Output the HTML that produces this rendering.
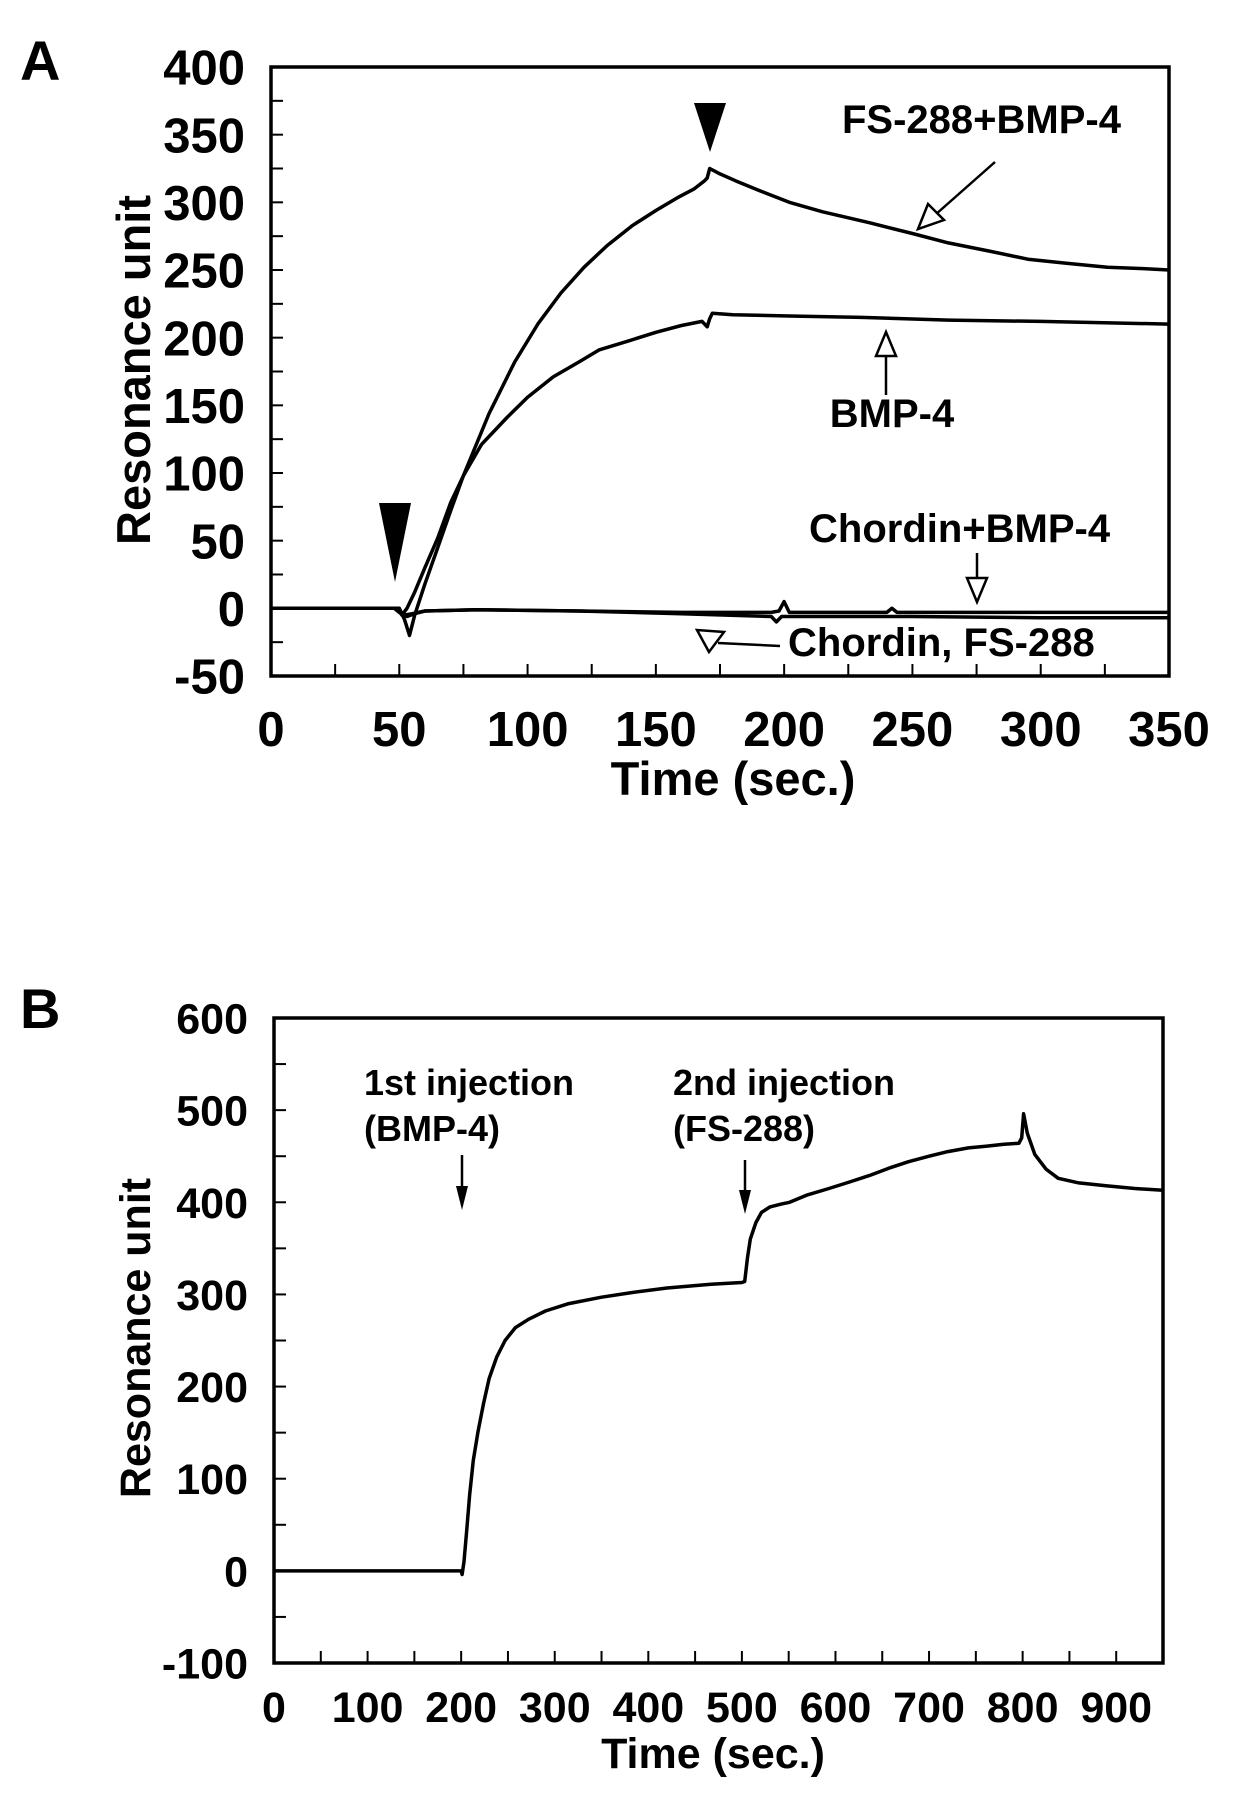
<!DOCTYPE html>
<html><head><meta charset="utf-8"><style>
html,body{margin:0;padding:0;background:#fff;}
svg{display:block;}
text{font-family:"Liberation Sans",Arial,sans-serif;font-weight:bold;fill:#000;}
</style></head><body>
<svg id="fig" width="1238" height="1800" viewBox="0 0 1238 1800" xmlns="http://www.w3.org/2000/svg">
<g id="chartA"></g>
<g id="chartB"></g>
</svg>
<script>
// ---------- Chart A data ----------
const aXTicks = [0,50,100,150,200,250,300,350];
const aYTicks = [-50,0,50,100,150,200,250,300,350,400];
const fsBmpT = [0,45,50,52,54,56,60,65,70,75,85,95,104,113,122,131,141,150,159,165,169,170,171,175,181,190,202,215,233,250,264,280,295,310,326,340,350];
const fsBmpV = [0,0,0,-8,-20,-5,18,45,72,98,144,182,210,233,252,268,283,294,304,310,316,318,325,321,316,309,300,293,285,277,270,264,258,255,252,251,250];
const bmpT = [0,45,49,51,53,56,60,65,70,75,82,92,100,110,120,128,140,150,160,168,170,171,172,180,202,230,264,300,350];
const bmpV = [0,0,0,-5,0,12,30,52,78,98,121,141,156,171,182,191,198,204,209,212,208,214,218,217,216,215,213,212,210];
const chBmpT = [0,48,50,52,55,60,80,120,160,195,198,200,202,210,240,242,244,300,350];
const chBmpV = [0,0,-2,-5,-4,-2,-1,-2,-3,-3,-2,5,-3,-3,-3,0,-3,-3,-3];
const chFsT = [0,48,50,53,56,60,80,120,160,195,197,199,201,210,250,300,350];
const chFsV = [0,0,-3,-6,-4,-2,-1,-2,-4,-6,-10,-6,-6,-6,-6,-7,-7];

// ---------- Chart B data ----------
const bXTicks = [0,100,200,300,400,500,600,700,800,900];
const bYTicks = [-100,0,100,200,300,400,500,600];
const seqT = [0,100,200,201,203,206,209,213,218,224,230,238,247,258,272,290,315,350,382,420,467,500,503,506,509,515,521,530,542,551,570,593,615,636,657,678,700,720,742,762,780,796,799,801,805,813,825,838,860,889,920,950];
const seqV = [0,0,0,-4,10,45,82,120,151,182,209,232,250,264,273,282,290,297,302,307,311,313,314,340,360,378,389,395,398,400,408,415,422,429,437,444,450,455,459,461,463,464,470,496,475,452,436,426,421,418,415,413];

const NS='http://www.w3.org/2000/svg';
function mk(parent,tag,attrs){const e=document.createElementNS(NS,tag);for(const k in attrs)e.setAttribute(k,attrs[k]);parent.appendChild(e);return e;}

const ax={x0:271,x1:1169,y0:676,y1:67,tMin:0,tMax:350,vMin:-50,vMax:400};
const bx={x0:274,x1:1163,y0:1663,y1:1018,tMin:0,tMax:950,vMin:-100,vMax:600};
function sx(a,t){return a.x0+(t-a.tMin)/(a.tMax-a.tMin)*(a.x1-a.x0);}
function sy(a,v){return a.y0-(v-a.vMin)/(a.vMax-a.vMin)*(a.y0-a.y1);}
function pathOf(a,T,V){return T.map((t,i)=>(i?'L':'M')+sx(a,t).toFixed(1)+' '+sy(a,V[i]).toFixed(1)).join(' ');}

function drawAxes(g,a,xTicks,yTicks,xMinor,yMinor,fs,xLabY){
  const fr=mk(g,'rect',{x:a.x0,y:a.y1,width:a.x1-a.x0,height:a.y0-a.y1,fill:'none',stroke:'#000','stroke-width':3.5});
  
  
  for(let t=a.tMin;t<=a.tMax+0.01;t+=xMinor){
    const x=sx(a,t);
    const tk=mk(g,'line',{x1:x,x2:x,y1:a.y0,y2:a.y0-12,stroke:'#000','stroke-width':2});
    
    
  }
  for(let v=a.vMin;v<=a.vMax+0.01;v+=yMinor){
    const y=sy(a,v);
    const tk=mk(g,'line',{x1:a.x0,x2:a.x0+12,y1:y,y2:y,stroke:'#000','stroke-width':2});
    
    
  }
  xTicks.forEach(t=>{
    const e=mk(g,'text',{x:sx(a,t),y:xLabY,'font-size':fs,'text-anchor':'middle'});
    e.textContent=t;
    
    
  });
  yTicks.forEach(v=>{
    const e=mk(g,'text',{x:a.x0-26,y:sy(a,v)+fs*0.36,'font-size':fs,'text-anchor':'end'});
    e.textContent=v;
    
    
  });
}
function txt(g,x,y,s,fs,name,anchor){
  const e=mk(g,'text',{x:x,y:y,'font-size':fs,'text-anchor':anchor||'start'});
  e.textContent=s;
  
  
  return e;
}
function series(g,a,T,V,name){
  const p=mk(g,'path',{d:pathOf(a,T,V),fill:'none',stroke:'#000','stroke-width':3.5,'stroke-linejoin':'round'});
  
  
}
function shape(g,tag,attrs,name){
  const e=mk(g,tag,attrs);
  
  
  return e;
}

// ---- Chart A ----
const gA=document.getElementById('chartA');
drawAxes(gA,ax,aXTicks,aYTicks,25,25,49,746);
txt(gA,20,80,'A',56,'panel-label-a');
const ytA=txt(gA,0,0,'Resonance unit',47,'y-axis-title-a','middle');
ytA.setAttribute('transform','translate(150,370) rotate(-90)');
txt(gA,733,795,'Time (sec.)',47,'x-axis-title-a','middle');
series(gA,ax,chFsT,chFsV,'series-chordin-fs288');
series(gA,ax,chBmpT,chBmpV,'series-chordin-bmp4');
series(gA,ax,bmpT,bmpV,'series-bmp4');
series(gA,ax,fsBmpT,fsBmpV,'series-fs288-bmp4');
shape(gA,'polygon',{points:'379,503 411,503 395,582',fill:'#000'},'injection-start-marker');
shape(gA,'polygon',{points:'694,103 726,103 710,152',fill:'#000'},'injection-end-marker');
txt(gA,842,133,'FS-288+BMP-4',40,'label-fs288-bmp4');
shape(gA,'line',{x1:995,y1:162,x2:935,y2:215,stroke:'#000','stroke-width':2.5},'arrow-line-fs288-bmp4');
shape(gA,'polygon',{points:'918,229 928,204 944,220',fill:'#fff',stroke:'#000','stroke-width':2.5},'arrow-head-fs288-bmp4');
txt(gA,892,427,'BMP-4',40,'label-bmp4','middle');
shape(gA,'line',{x1:886,y1:395,x2:886,y2:355,stroke:'#000','stroke-width':2.5},'arrow-line-bmp4');
shape(gA,'polygon',{points:'886,332 876,356 896,356',fill:'#fff',stroke:'#000','stroke-width':2.5},'arrow-head-bmp4');
txt(gA,809,542,'Chordin+BMP-4',40,'label-chordin-bmp4');
shape(gA,'line',{x1:977,y1:553,x2:977,y2:578,stroke:'#000','stroke-width':2.5},'arrow-line-chordin-bmp4');
shape(gA,'polygon',{points:'977,602 967,578 987,578',fill:'#fff',stroke:'#000','stroke-width':2.5},'arrow-head-chordin-bmp4');
txt(gA,788,656,'Chordin, FS-288',40,'label-chordin-fs288');
shape(gA,'line',{x1:780,y1:646,x2:718,y2:643,stroke:'#000','stroke-width':2.5},'arrow-line-chordin-fs288');
shape(gA,'polygon',{points:'709,652 697,630 724,632',fill:'#fff',stroke:'#000','stroke-width':2.5},'arrow-head-chordin-fs288');

// ---- Chart B ----
const gB=document.getElementById('chartB');
drawAxes(gB,bx,bXTicks,bYTicks,50,50,43,1722);
txt(gB,20,1028,'B',56,'panel-label-b');
const ytB=txt(gB,0,0,'Resonance unit',43,'y-axis-title-b','middle');
ytB.setAttribute('transform','translate(150,1338) rotate(-90)');
txt(gB,713,1768,'Time (sec.)',43,'x-axis-title-b','middle');
series(gB,bx,seqT,seqV,'series-sequential-injection');
txt(gB,364,1095,'1st injection',36,'label-first-injection');
txt(gB,364,1141,'(BMP-4)',36,'label-first-injection-sample');
shape(gB,'line',{x1:462,y1:1155,x2:462,y2:1190,stroke:'#000','stroke-width':2.5},'arrow-line-first-injection');
shape(gB,'polygon',{points:'462,1210 456,1186 468,1186',fill:'#000'},'arrow-head-first-injection');
txt(gB,673,1095,'2nd injection',36,'label-second-injection');
txt(gB,673,1141,'(FS-288)',36,'label-second-injection-sample');
shape(gB,'line',{x1:745,y1:1160,x2:745,y2:1194,stroke:'#000','stroke-width':2.5},'arrow-line-second-injection');
shape(gB,'polygon',{points:'745,1214 739,1190 751,1190',fill:'#000'},'arrow-head-second-injection');
</script>
</body></html>
